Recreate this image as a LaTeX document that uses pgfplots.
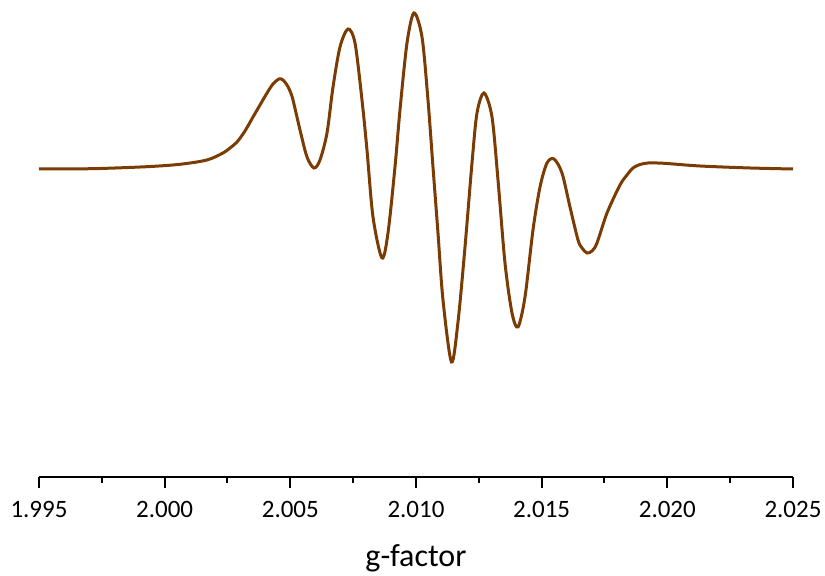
\documentclass[border=0pt]{standalone}
\usepackage{fontspec}
\setmainfont{Carlito}
\usepackage{pgfplots}
\pgfplotsset{compat=1.18}
\definecolor{epr}{RGB}{123,60,4}
\begin{document}
\begin{tikzpicture}
\useasboundingbox (-19.5pt,-49.5pt) rectangle (393pt,238.5pt);
\begin{axis}[
  at={(0,0)}, anchor=south west,
  scale only axis, width=377pt, height=236pt,
  xmin=1.995, xmax=2.025, ymin=-308, ymax=164,
  axis x line*=bottom,
  axis y line=none,
  axis line style={black, line width=1pt},
  xtick={1.995,2.000,2.005,2.010,2.015,2.020,2.025},
  xticklabels={1.995,2.000,2.005,2.010,2.015,2.020,2.025},
  minor xtick={1.9975,2.0025,2.0075,2.0125,2.0175,2.0225},
  tick align=outside,
  xtick pos=bottom,
  major tick length=5.5pt,
  minor tick length=3pt,
  every tick/.style={black, line width=1pt},
  scaled x ticks=false,
  xticklabel style={font=\fontsize{12.5}{15}\selectfont, anchor=center, yshift=-10.75pt},
  xlabel={g-factor},
  xlabel style={font=\fontsize{16}{19}\selectfont, at={(axis description cs:0.5,0)}, anchor=center, yshift=-40.5pt},
  clip=false,
]
\addplot[epr, line width=1.5pt, smooth, tension=0.5] table {
x y
1.995000 0
1.996233 0.2
1.997308 0.4
1.999297 2.3
2.000610 4.7
2.001684 9
2.002321 16
2.002600 21
2.002878 27
2.003196 38
2.003515 52
2.003793 64
2.004072 76
2.004310 85
2.004549 90
2.004708 89
2.004867 84
2.004987 78
2.005106 69
2.005385 39
2.005663 12
2.005942 1
2.006180 9
2.006459 36
2.006698 82
2.006976 122
2.007294 140
2.007573 126
2.007851 69
2.008050 19
2.008289 -48
2.008647 -89
2.008886 -64
2.009164 2
2.009363 59
2.009642 126
2.009920 156
2.010239 132
2.010477 69
2.010676 2
2.010875 -64
2.011074 -131
2.011412 -193
2.011671 -153
2.011950 -78
2.012228 6
2.012427 56
2.012706 76
2.013024 52
2.013263 -11
2.013541 -94
2.013820 -144
2.014058 -158
2.014337 -128
2.014655 -61
2.014934 -18
2.015212 6
2.015491 10
2.015809 -4
2.016127 -38
2.016446 -71
2.016605 -79
2.016804 -84
2.017003 -82
2.017202 -74
2.017600 -44
2.018117 -16
2.018395 -6
2.018634 1
2.018912 4.5
2.019231 6
2.019589 6
2.019987 5.5
2.021300 3
2.023289 1
2.025000 0
};
\end{axis}
\end{tikzpicture}
\end{document}
